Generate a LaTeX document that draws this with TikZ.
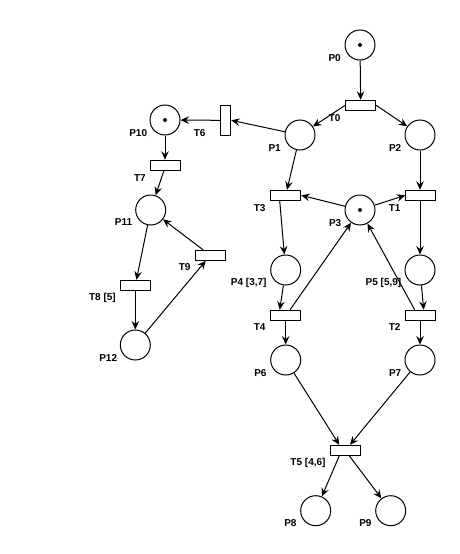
\documentclass[tikz,border=0pt]{standalone}
\usepackage{fontspec}
\setmainfont{Liberation Sans}
\usetikzlibrary{arrows.meta}
\begin{document}
\begin{tikzpicture}[x=1pt,y=-1pt,
  place/.style={circle,draw,line width=1pt,minimum size=30pt,inner sep=0pt},
  trans/.style={rectangle,draw,line width=1pt,minimum width=30pt,minimum height=10pt,inner sep=0pt},
  vtrans/.style={rectangle,draw,line width=1pt,minimum width=10pt,minimum height=30pt,inner sep=0pt},
  lbl/.style={anchor=east,inner sep=0pt,text height=7.2pt,text depth=0pt,
    font=\fontsize{10}{12}\selectfont\bfseries},
  arc/.style={draw,line width=1pt,-{Stealth[length=8.5pt,width=7.5pt,inset=3pt]}},
  token/.style={fill=black}]
\useasboundingbox[fill=white] (0,0) rectangle (460,554);

% places
\node[place] (P0)  at (360,45)   {};
\node[place] (P1)  at (300,135)  {};
\node[place] (P2)  at (420,135)  {};
\node[place] (P3)  at (360,210)  {};
\node[place] (P4)  at (285.7,270) {};
\node[place] (P5)  at (420,270)  {};
\node[place] (P6)  at (285.7,360) {};
\node[place] (P7)  at (420,360)  {};
\node[place] (P8)  at (315.7,510.7) {};
\node[place] (P9)  at (390.7,510.7) {};
\node[place] (P10) at (165,120)  {};
\node[place] (P11) at (150.7,210) {};
\node[place] (P12) at (135.3,345) {};

% tokens
\fill[token] (P0)  circle[radius=2pt];
\fill[token] (P3)  circle[radius=2pt];
\fill[token] (P10) circle[radius=2pt];

% transitions
\node[trans]  (T0) at (360.7,105.3) {};
\node[trans]  (T1) at (420.7,195.3) {};
\node[trans]  (T2) at (420.7,315.3) {};
\node[trans]  (T3) at (285.7,195.3) {};
\node[trans]  (T4) at (285.7,315.3) {};
\node[trans]  (T5) at (345.3,450.3) {};
\node[vtrans] (T6) at (225.7,120.3) {};
\node[trans]  (T7) at (165.7,165.3) {};
\node[trans]  (T8) at (135.3,285.3) {};
\node[trans]  (T9) at (210.3,255.3) {};

% labels
\path (P0)  ++(-19,12.5) node[lbl] (lP0)  {P0};
\path (P1)  ++(-19,12.5) node[lbl] (lP1)  {P1};
\path (P2)  ++(-18.5,12.5) node[lbl] (lP2)  {P2};
\path (P3)  ++(-18.5,12.5) node[lbl] (lP3)  {P3};
\path (P4)  ++(-19,11.5) node[lbl] (lP4)  {P4 [3,7]};
\path (P5)  ++(-18.5,11.5) node[lbl] (lP5)  {P5 [5,9]};
\path (P6)  ++(-19,12.5) node[lbl] (lP6)  {P6};
\path (P7)  ++(-18.5,12.5) node[lbl] (lP7)  {P7};
\path (P8)  ++(-19,12.5) node[lbl] (lP8)  {P8};
\path (P9)  ++(-19,12.5) node[lbl] (lP9)  {P9};
\path (P10) ++(-17.7,12.7) node[lbl] (lP10) {P10};
\path (P11) ++(-18.4,12) node[lbl] (lP11) {P11};
\path (P12) ++(-18,13) node[lbl] (lP12) {P12};
\path (T0)  ++(-20,12.2) node[lbl] (lT0)  {T0};
\path (T1)  ++(-20,12.2) node[lbl] (lT1)  {T1};
\path (T2)  ++(-20,12) node[lbl] (lT2)  {T2};
\path (T3)  ++(-20,12.2) node[lbl] (lT3)  {T3};
\path (T4)  ++(-20,12) node[lbl] (lT4)  {T4};
\path (T5)  ++(-19.6,12) node[lbl] (lT5)  {T5 [4,6]};
\path (T6)  ++(-20,12.4) node[lbl] (lT6)  {T6};
\path (T7)  ++(-19.7,12.7) node[lbl] (lT7)  {T7};
\path (T8)  ++(-19.3,12) node[lbl] (lT8)  {T8 [5]};
\path (T9)  ++(-19.6,11.7) node[lbl] (lT9)  {T9};

% arcs: main net
\draw[arc] (P0) -- (T0);
\draw[arc] (T0.west) -- (P1);
\draw[arc] (T0.east) -- (P2);
\draw[arc] (P1) -- (T6.east);
\draw[arc] (P1) -- (T3);
\draw[arc] (P2.south) -- (P2.south |- T1.north);
\draw[arc] (P3) -- (T3.east);
\draw[arc] (P3) -- (T1.west);
\draw[arc] ([xshift=-6pt]T3.south) -- (P4);
\draw[arc] (P4) -- ([xshift=-6pt]T4.north);
\draw[arc] (T4) -- (P6);
\draw[arc] ([xshift=4.3pt]T4.north) -- (P3);
\draw[arc] (T1.south -| P5.north) -- (P5);
\draw[arc] (P5) -- ([xshift=3pt]T2.north);
\draw[arc] ([xshift=-6pt]T2.north) -- (P3);
\draw[arc] (T2.south -| P7.north) -- (P7);
\draw[arc] (P6) -- ([xshift=-6pt]T5.north);
\draw[arc] (P7) -- ([xshift=4.7pt]T5.north);
\draw[arc] ([xshift=-6pt]T5.south) -- (P8);
\draw[arc] ([xshift=4pt]T5.south) -- (P9);

% arcs: left subnet
\draw[arc] (T6.west) -- (P10);
\draw[arc] (P10.south) -- (P10.south |- T7.north);
\draw[arc] (T7) -- (P11);
\draw[arc] (P11) -- (T8);
\draw[arc] (T8.south -| P12.north) -- (P12);
\draw[arc] (P12) -- (T9);
\draw[arc] (T9) -- (P11);
\end{tikzpicture}
\end{document}
